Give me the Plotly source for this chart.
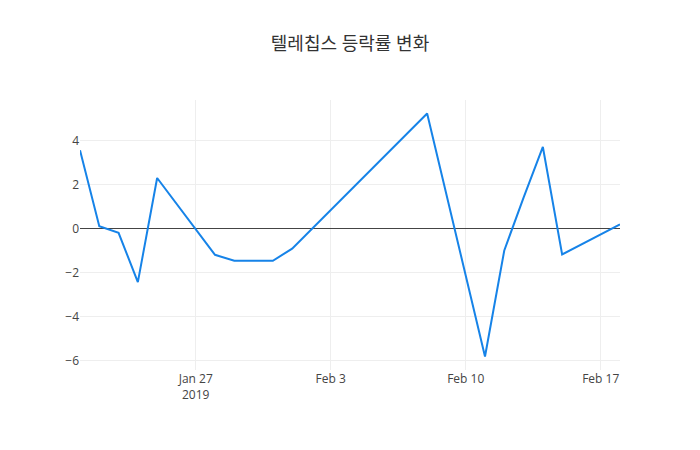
import plotly.graph_objects as go

dates = ["2019-01-21", "2019-01-22", "2019-01-23", "2019-01-24", "2019-01-25",
         "2019-01-28", "2019-01-29", "2019-01-30", "2019-01-31", "2019-02-01",
         "2019-02-08", "2019-02-11", "2019-02-12", "2019-02-13", "2019-02-14",
         "2019-02-15", "2019-02-18"]
change_pct = [3.55, 0.1, -0.2, -2.44, 2.29,
              -1.2, -1.47, -1.47, -1.47, -0.92,
              5.22, -5.82, -1.0, 1.4, 3.7,
              -1.18, 0.18]

fig = go.Figure(go.Scatter(
    x=dates, y=change_pct, mode="lines",
    line=dict(color="#1683e8", width=2),
))
fig.update_layout(
    template="none",
    width=700, height=450,
    title=dict(text="텔레칩스 등락률 변화", x=0.5,
               font=dict(family="Open Sans, Noto Sans CJK KR", size=18, color="#333")),
    font=dict(family="Open Sans, Noto Sans CJK KR", size=12, color="#444"),
    margin=dict(l=80, r=80, t=100, b=80),
    paper_bgcolor="white", plot_bgcolor="white",
    xaxis=dict(showgrid=True, gridcolor="#eee", zeroline=False),
    yaxis=dict(showgrid=True, gridcolor="#eee", zeroline=True,
               zerolinecolor="#444", zerolinewidth=1, dtick=2),
)
fig.write_html("out.html")
